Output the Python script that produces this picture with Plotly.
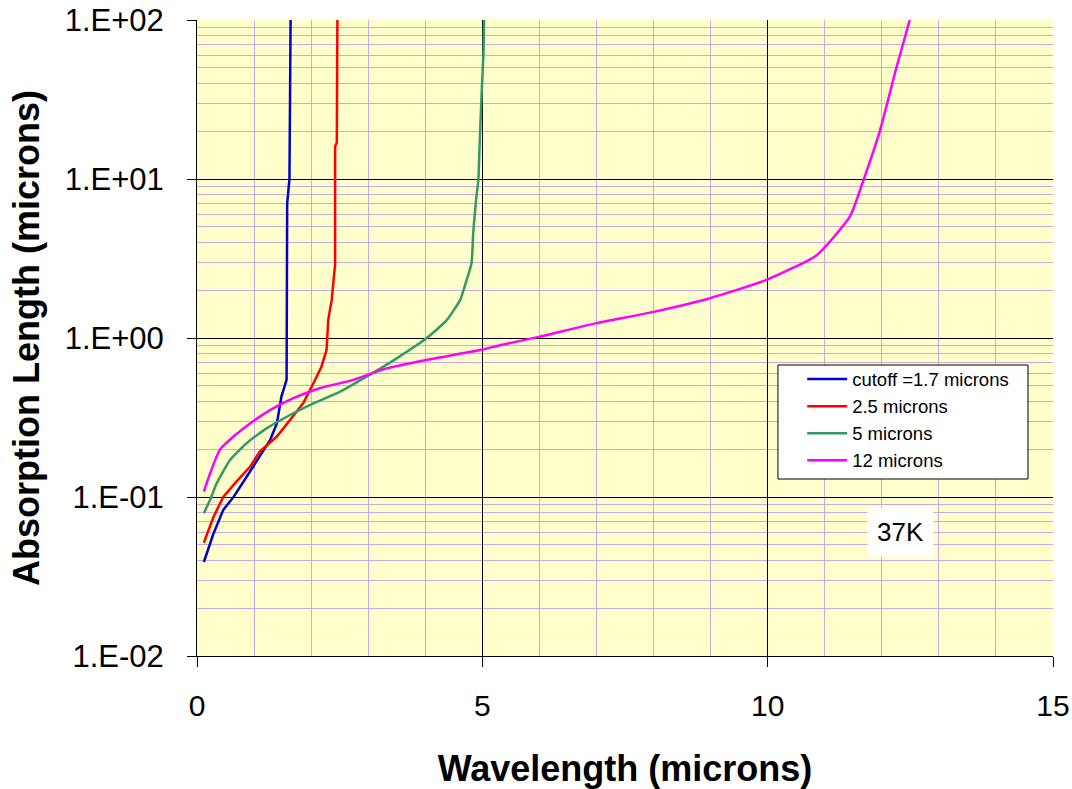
import plotly.graph_objects as go

# ---- data ----
blue_x = [0.12, 0.29, 0.46, 0.64, 0.87, 1.10, 1.28, 1.40, 1.48, 1.57, 1.575, 1.58, 1.62, 1.64]
blue_y = [0.039, 0.059, 0.083, 0.10, 0.134, 0.179, 0.228, 0.29, 0.43, 0.545, 1.0, 7.0, 10.0, 100.0]

red_x = [0.12, 0.29, 0.46, 0.69, 0.93, 1.10, 1.40, 1.63, 1.86, 2.04, 2.18, 2.27, 2.30, 2.36, 2.40, 2.42, 2.42, 2.45, 2.46]
red_y = [0.0516, 0.075, 0.10, 0.125, 0.155, 0.193, 0.24, 0.305, 0.388, 0.519, 0.66, 0.84, 1.30, 1.73, 2.5, 2.9, 16.0, 17.0, 100.0]

green_x = [0.12, 0.23, 0.345, 0.58, 0.87, 1.22, 1.63, 2.04, 2.51, 2.97, 3.50, 4.02, 4.38, 4.61, 4.67, 4.81, 4.84, 4.89, 4.93, 4.96, 4.99, 5.02, 5.03]
green_y = [0.079, 0.096, 0.122, 0.171, 0.218, 0.27, 0.328, 0.388, 0.46, 0.571, 0.745, 0.995, 1.30, 1.73, 2.0, 2.95, 4.55, 7.4, 9.86, 19.4, 36.0, 61.7, 100.0]

mag_x = [0.12, 0.23, 0.40, 0.64, 0.93, 1.28, 1.69, 2.15, 2.74, 3.32, 4.02, 4.96, 5.31, 6.01, 7.00, 8.00, 8.99, 9.98, 10.86, 11.44, 11.68, 11.97, 12.26, 12.49]
mag_y = [0.108, 0.141, 0.198, 0.24, 0.29, 0.352, 0.418, 0.483, 0.545, 0.644, 0.728, 0.84, 0.90, 1.02, 1.24, 1.46, 1.78, 2.32, 3.32, 5.79, 9.86, 20.3, 50.8, 100.0]

series_names = ["cutoff =1.7 microns", "2.5 microns", "5 microns", "12 microns"]
series_colors = ["#0000CC", "#FF0000", "#339966", "#FF00FF"]
series_shapes = ["linear", "linear", "spline", "spline"]

y_tickvals = [0.01, 0.1, 1, 10, 100]
y_ticktext = ["1.E-02", "1.E-01", "1.E+00", "1.E+01", "1.E+02"]
x_tickvals = [0, 5, 10, 15]

FONT = "Arial, Liberation Sans, sans-serif"
MINOR_GRID = "#CBA8E0"

fig = go.Figure()
for i, (xs, ys) in enumerate([(blue_x, blue_y), (red_x, red_y), (green_x, green_y), (mag_x, mag_y)]):
    fig.add_trace(go.Scatter(
        x=xs, y=ys, mode="lines", name=series_names[i],
        line=dict(color=series_colors[i], width=2.5, shape=series_shapes[i], smoothing=0.5),
        legendgroup=f"g{i}",
    ))

y_minor = [k * 10.0 ** e for e in range(-2, 2) for k in range(2, 10)]

# legend frame drawn as a shape (white box with black border)
fig.add_shape(type="rect", xref="paper", yref="paper",
              x0=0.6787, x1=0.9708, y0=0.2783, y1=0.4575,
              fillcolor="white", line=dict(color="black", width=1), layer="above")

fig.update_layout(
    width=1072, height=789,
    margin=dict(l=197, r=19, t=20, b=133),
    paper_bgcolor="white",
    plot_bgcolor="#FFFFCC",
    font=dict(family=FONT, color="black"),
    showlegend=True,
    legend=dict(
        x=0.707, y=0.4645, xanchor="left", yanchor="top",
        bgcolor="rgba(0,0,0,0)", borderwidth=0,
        font=dict(size=18.5, family=FONT),
        tracegroupgap=0,
        itemwidth=40,
    ),
    xaxis=dict(
        range=[0, 15], tickvals=x_tickvals,
        showgrid=True, gridcolor="black", gridwidth=1,
        minor=dict(dtick=1, showgrid=True, gridcolor=MINOR_GRID, gridwidth=1, ticks=""),
        ticks="outside", ticklen=10, tickcolor="black",
        ticklabelstandoff=13,
        showline=True, linecolor="black", linewidth=1, mirror=False,
        tickfont=dict(size=30, family=FONT),
        title=dict(text="<b>Wavelength (microns)</b>", font=dict(size=36, family=FONT), standoff=36),
        zeroline=False, automargin=False,
    ),
    yaxis=dict(
        type="log", range=[-2, 2],
        tickvals=y_tickvals, ticktext=y_ticktext,
        showgrid=True, gridcolor="black", gridwidth=1,
        minor=dict(tickvals=y_minor, showgrid=True, gridcolor=MINOR_GRID, gridwidth=1, ticks=""),
        ticks="outside", ticklen=9, tickcolor="black",
        ticklabelstandoff=17,
        showline=True, linecolor="black", linewidth=1,
        tickfont=dict(size=31, family=FONT),
        title=dict(text="<b>Absorption Length (microns)</b>", font=dict(size=36, family=FONT), standoff=14),
        zeroline=False, automargin=False,
    ),
)

fig.add_annotation(
    x=12.32, y=-1.220, xref="x", yref="y",
    text="37K", showarrow=False,
    font=dict(size=26, family=FONT, color="black"),
    bgcolor="white", borderpad=9,
)

fig.write_html("out.html", config={"displayModeBar": False},
               post_script="document.body.style.margin='0';document.body.style.overflow='hidden';")
